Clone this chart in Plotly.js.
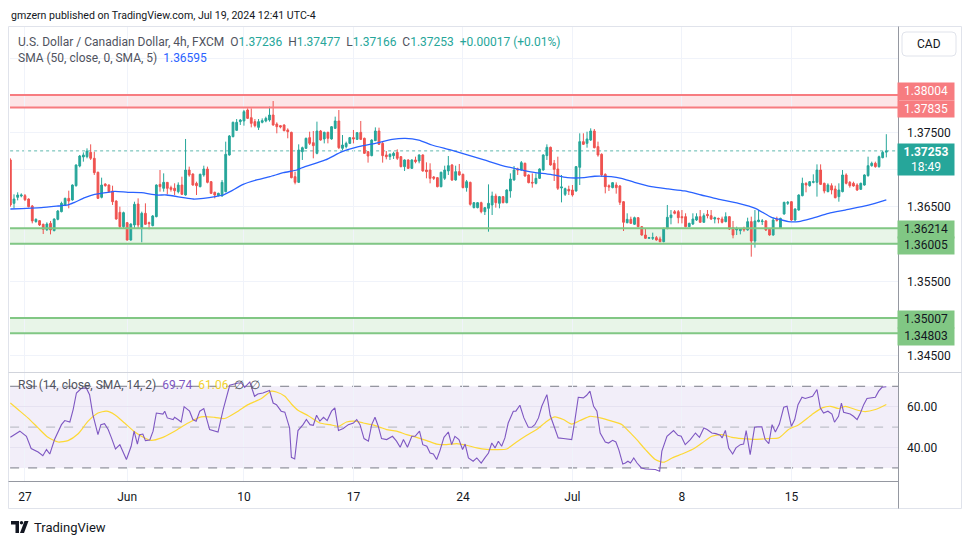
<!DOCTYPE html>
<html><head><meta charset="utf-8">
<script src="https://cdn.plot.ly/plotly-3.0.1.min.js"></script>
<style>html,body{margin:0;padding:0;background:#fff;}#chart{width:970px;height:545px;}</style>
</head><body><div id="chart"></div>
<script>
// ---- DATA ----
const openP=[1.37131,1.36548,1.36629,1.36647,1.36651,1.36606,1.36512,1.36302,1.36315,1.36266,1.36194,1.36279,1.36181,1.36333,1.36436,1.36526,1.36615,1.36593,1.36785,1.37050,1.37171,1.37175,1.37233,1.37153,1.36965,1.36629,1.36808,1.36794,1.36714,1.36579,1.36427,1.36234,1.36288,1.36055,1.36257,1.36539,1.36221,1.36414,1.36288,1.36248,1.36369,1.36803,1.36750,1.36830,1.36759,1.36750,1.36705,1.36794,1.36660,1.36996,1.36942,1.36817,1.36772,1.36929,1.37009,1.36839,1.36696,1.36651,1.36647,1.36705,1.37198,1.37444,1.37529,1.37646,1.37655,1.37802,1.37699,1.37646,1.37569,1.37637,1.37655,1.37668,1.37735,1.37614,1.37592,1.37601,1.37534,1.37502,1.36906,1.36830,1.37242,1.37287,1.37431,1.37363,1.37220,1.37520,1.37413,1.37502,1.37413,1.37556,1.37655,1.37287,1.37310,1.37354,1.37431,1.37408,1.37502,1.37422,1.37242,1.37189,1.37390,1.37520,1.37354,1.37198,1.37175,1.37189,1.37233,1.37175,1.37041,1.37131,1.37018,1.37131,1.37117,1.37198,1.36996,1.36996,1.36902,1.36893,1.36772,1.36884,1.36983,1.37063,1.36862,1.36974,1.36938,1.36759,1.36830,1.36490,1.36490,1.36557,1.36436,1.36481,1.36526,1.36647,1.36548,1.36638,1.36557,1.36714,1.36862,1.37009,1.36996,1.37086,1.36929,1.36830,1.36817,1.36884,1.36996,1.37189,1.37301,1.37086,1.37009,1.36754,1.36669,1.36736,1.36727,1.36714,1.37032,1.37377,1.37354,1.37399,1.37520,1.37310,1.37207,1.36938,1.36785,1.36759,1.36794,1.36781,1.36570,1.36288,1.36333,1.36266,1.36355,1.36234,1.36122,1.36078,1.36078,1.36087,1.36069,1.36033,1.36212,1.36355,1.36436,1.36436,1.36369,1.36369,1.36234,1.36270,1.36324,1.36369,1.36293,1.36400,1.36382,1.36337,1.36346,1.36337,1.36302,1.36369,1.36221,1.36190,1.36181,1.36212,1.36190,1.36302,1.36042,1.36302,1.36302,1.36311,1.36199,1.36122,1.36333,1.36212,1.36405,1.36548,1.36570,1.36324,1.36458,1.36651,1.36817,1.36785,1.36830,1.36830,1.36996,1.36817,1.36705,1.36785,1.36741,1.36638,1.36705,1.36929,1.36830,1.36817,1.36794,1.36736,1.36794,1.36920,1.37054,1.37086,1.37041,1.37162,1.37236];
const highP=[1.37153,1.36669,1.36696,1.36682,1.36673,1.36615,1.36526,1.36346,1.36324,1.36275,1.36293,1.36311,1.36346,1.36458,1.36570,1.36624,1.36718,1.36803,1.37072,1.37198,1.37233,1.37287,1.37341,1.37242,1.36974,1.36893,1.36817,1.36803,1.36785,1.36588,1.36503,1.36436,1.36297,1.36279,1.36570,1.36615,1.36436,1.36548,1.36302,1.36391,1.36803,1.36996,1.36951,1.36830,1.36785,1.36817,1.36830,1.36906,1.37413,1.37041,1.36951,1.36839,1.36947,1.37054,1.37041,1.36848,1.36705,1.36691,1.36862,1.37377,1.37466,1.37646,1.37681,1.37681,1.37802,1.37825,1.37825,1.37681,1.37681,1.37690,1.37713,1.37847,1.37923,1.37637,1.37601,1.37610,1.37556,1.37511,1.36974,1.37341,1.37310,1.37431,1.37511,1.37520,1.37646,1.37534,1.37511,1.37511,1.37587,1.37713,1.37802,1.37466,1.37377,1.37440,1.37534,1.37507,1.37655,1.37431,1.37251,1.37408,1.37569,1.37565,1.37377,1.37251,1.37220,1.37242,1.37274,1.37184,1.37139,1.37139,1.37139,1.37175,1.37207,1.37207,1.37099,1.37086,1.36915,1.36902,1.36974,1.37054,1.37184,1.37077,1.37054,1.37077,1.36947,1.36862,1.36839,1.36566,1.36566,1.36570,1.36499,1.36803,1.36705,1.36678,1.36647,1.36647,1.36736,1.36951,1.37050,1.37027,1.37117,1.37095,1.36938,1.36951,1.36951,1.37018,1.37207,1.37341,1.37310,1.37131,1.37175,1.36929,1.36759,1.36785,1.36794,1.37050,1.37489,1.37489,1.37511,1.37556,1.37547,1.37377,1.37220,1.36951,1.36803,1.36830,1.36830,1.36794,1.36579,1.36414,1.36369,1.36369,1.36364,1.36243,1.36203,1.36096,1.36154,1.36109,1.36100,1.36221,1.36526,1.36458,1.36458,1.36458,1.36458,1.36414,1.36288,1.36414,1.36414,1.36458,1.36414,1.36458,1.36458,1.36369,1.36355,1.36369,1.36427,1.36378,1.36311,1.36234,1.36212,1.36234,1.36355,1.36369,1.36458,1.36458,1.36337,1.36324,1.36208,1.36355,1.36369,1.36355,1.36570,1.36579,1.36579,1.36481,1.36669,1.36893,1.36830,1.36848,1.36938,1.37072,1.37072,1.36826,1.36817,1.36817,1.36785,1.36817,1.36996,1.36951,1.36848,1.36839,1.36817,1.36826,1.36938,1.37175,1.37108,1.37108,1.37189,1.37251,1.37477];
const lowP=[1.36503,1.36481,1.36588,1.36629,1.36579,1.36494,1.36279,1.36288,1.36243,1.36136,1.36176,1.36131,1.36172,1.36320,1.36427,1.36512,1.36481,1.36584,1.36772,1.37032,1.37108,1.37153,1.37131,1.36929,1.36606,1.36615,1.36772,1.36696,1.36526,1.36328,1.36212,1.36212,1.36046,1.36046,1.36212,1.36212,1.36024,1.36257,1.36199,1.36239,1.36360,1.36705,1.36705,1.36669,1.36705,1.36660,1.36682,1.36660,1.36651,1.36906,1.36785,1.36660,1.36763,1.36906,1.36817,1.36673,1.36615,1.36642,1.36638,1.36696,1.37189,1.37435,1.37520,1.37601,1.37592,1.37681,1.37569,1.37569,1.37534,1.37623,1.37637,1.37646,1.37592,1.37489,1.37556,1.37516,1.37422,1.36884,1.36803,1.36821,1.37131,1.37278,1.37332,1.37153,1.37207,1.37390,1.37354,1.37354,1.37404,1.37547,1.37278,1.37265,1.37287,1.37345,1.37354,1.37399,1.37399,1.37211,1.37095,1.37180,1.37386,1.37332,1.37095,1.37139,1.37131,1.37144,1.37131,1.37032,1.36983,1.37009,1.37009,1.37086,1.37086,1.36974,1.36884,1.36817,1.36862,1.36763,1.36763,1.36862,1.36929,1.36848,1.36853,1.36920,1.36750,1.36705,1.36517,1.36481,1.36481,1.36414,1.36391,1.36167,1.36391,1.36490,1.36481,1.36548,1.36548,1.36624,1.36853,1.36929,1.36987,1.36906,1.36817,1.36759,1.36803,1.36875,1.36987,1.37131,1.37054,1.36848,1.36727,1.36561,1.36647,1.36660,1.36638,1.36705,1.36794,1.37332,1.37296,1.37386,1.37287,1.37175,1.36906,1.36682,1.36714,1.36750,1.36678,1.36526,1.36176,1.36279,1.36275,1.36257,1.36225,1.36113,1.36069,1.36069,1.36055,1.36046,1.36024,1.36024,1.36199,1.36266,1.36400,1.36279,1.36279,1.36225,1.36225,1.36257,1.36311,1.36288,1.36288,1.36346,1.36324,1.36279,1.36279,1.36279,1.36293,1.36190,1.36078,1.36122,1.36131,1.36167,1.36181,1.35831,1.35952,1.36293,1.36257,1.36176,1.36113,1.36113,1.36302,1.36203,1.36396,1.36526,1.36311,1.36311,1.36449,1.36642,1.36696,1.36772,1.36817,1.36638,1.36794,1.36682,1.36696,1.36669,1.36615,1.36570,1.36696,1.36803,1.36759,1.36772,1.36714,1.36727,1.36785,1.36906,1.37041,1.37027,1.37027,1.37153,1.37166];
const closeP=[1.36526,1.36606,1.36660,1.36660,1.36597,1.36503,1.36311,1.36333,1.36257,1.36199,1.36270,1.36190,1.36337,1.36445,1.36548,1.36615,1.36579,1.36794,1.37063,1.37184,1.37198,1.37251,1.37153,1.36960,1.36615,1.36794,1.36785,1.36705,1.36570,1.36337,1.36234,1.36423,1.36055,1.36270,1.36535,1.36257,1.36414,1.36266,1.36275,1.36378,1.36794,1.36772,1.36830,1.36750,1.36736,1.36718,1.36794,1.36669,1.36996,1.36929,1.36794,1.36785,1.36938,1.37009,1.36830,1.36682,1.36660,1.36682,1.36830,1.37207,1.37453,1.37637,1.37637,1.37668,1.37780,1.37690,1.37623,1.37592,1.37646,1.37659,1.37690,1.37735,1.37601,1.37578,1.37574,1.37525,1.37511,1.36893,1.36830,1.37265,1.37296,1.37422,1.37354,1.37323,1.37520,1.37399,1.37502,1.37422,1.37578,1.37655,1.37296,1.37332,1.37354,1.37431,1.37413,1.37498,1.37408,1.37220,1.37184,1.37399,1.37520,1.37341,1.37189,1.37175,1.37207,1.37220,1.37153,1.37041,1.37131,1.37018,1.37131,1.37108,1.37198,1.36983,1.36974,1.36884,1.36884,1.36772,1.36965,1.36996,1.37054,1.36862,1.36974,1.36929,1.36759,1.36839,1.36535,1.36557,1.36557,1.36436,1.36490,1.36548,1.36647,1.36557,1.36638,1.36557,1.36727,1.36875,1.36996,1.36996,1.37095,1.36915,1.36826,1.36821,1.36884,1.37009,1.37198,1.37301,1.37063,1.37005,1.36750,1.36768,1.36745,1.36714,1.36660,1.37041,1.37377,1.37341,1.37413,1.37520,1.37296,1.37198,1.36929,1.36772,1.36768,1.36826,1.36759,1.36561,1.36293,1.36333,1.36279,1.36355,1.36234,1.36122,1.36078,1.36087,1.36087,1.36055,1.36033,1.36212,1.36360,1.36391,1.36414,1.36355,1.36355,1.36234,1.36279,1.36337,1.36369,1.36293,1.36382,1.36382,1.36337,1.36355,1.36337,1.36293,1.36369,1.36203,1.36122,1.36203,1.36203,1.36190,1.36302,1.36042,1.36311,1.36324,1.36311,1.36190,1.36122,1.36324,1.36320,1.36346,1.36561,1.36561,1.36324,1.36472,1.36660,1.36817,1.36794,1.36839,1.36839,1.36996,1.36803,1.36714,1.36794,1.36727,1.36624,1.36727,1.36929,1.36817,1.36785,1.36781,1.36727,1.36817,1.36929,1.37054,1.37086,1.37041,1.37175,1.37233,1.37253];
const smaIdx=[0,8.5,13.1,15.8,17.6,20.4,23.1,24.9,28.6,32.2,35.9,40.1,42.8,47.4,50.1,52.9,56.5,58.3,60.2,63.8,67.5,71.1,74.8,78.5,80,86.3,90.9,95.4,100,104.6,108.2,111.9,115.5,120.6,125.2,129.8,134.3,138.9,143.5,148,152.6,157.2,160.1,164.6,167.4,171,175.6,180.2,184.7,189.3,193.9,199.5,204.1,208.7,211.4,213.2,216,219.6,224.2,228.7,233.3,236.9,240];
const smaVal=[1.36472,1.36490,1.36512,1.36526,1.36561,1.36624,1.36669,1.36682,1.36709,1.36696,1.36691,1.36660,1.36660,1.36624,1.36606,1.36615,1.36642,1.36660,1.36705,1.36803,1.36862,1.36906,1.36960,1.36996,1.37027,1.37131,1.37242,1.37310,1.37354,1.37408,1.37422,1.37399,1.37332,1.37265,1.37198,1.37131,1.37063,1.37009,1.36965,1.36938,1.36893,1.36893,1.36912,1.36906,1.36884,1.36830,1.36772,1.36741,1.36714,1.36660,1.36606,1.36548,1.36481,1.36355,1.36324,1.36302,1.36302,1.36346,1.36414,1.36458,1.36503,1.36548,1.36595];
const rsiIdx=[0,2.6,4.4,5.7,7.6,8.9,9.9,10.8,12.1,14,14.9,16.3,17.2,18.1,19.4,20.8,21.7,22.6,24,24.8,25.8,26.8,27.7,28.8,30,31.8,33.1,33.9,34.8,35.4,36.3,37,38.2,39.1,40,41.8,42.3,43,44.6,45,45.9,46.8,47.6,49.1,50,50.9,51.9,53,54.6,56.9,58.3,59.2,60.1,62.4,63.3,64.2,65.6,66.9,67.8,69.2,71,72,72.9,74.2,75.2,76.5,77,77.9,78.8,80.2,81.1,82.1,83,83.9,84.8,85.8,86.8,88,88.9,89.9,91.2,92.6,94,94.9,95.8,96.9,98.1,99,99.9,100.8,101.7,103.1,104.7,105.8,106.8,107.7,108.8,110,110.9,112.1,113,114.1,115,115.9,116.8,117.7,118.8,120,120.9,121.8,122.9,123.9,124.6,125.5,126.8,127.8,129,130,131,131.9,132.8,133.7,134.6,135.5,136.4,137.8,138.5,139.6,140.7,141.9,142.8,143.7,144.7,145.6,147,147.9,148.8,150.1,151.5,152.9,153.8,154.7,155.6,157,157.9,158.8,159.8,160.7,161.6,163,163.9,165,165.9,166.7,167.8,168.5,169.2,169.9,170.8,171.7,172.9,174,175.3,176.7,177.9,178.5,179.9,181.7,182.9,183.8,184.9,186.3,187.7,188.8,190,190.9,192.2,193.3,194.5,195,195.9,196.8,197.9,198.8,200,200.9,201.6,202.7,203.9,204.8,205.9,206.8,207.8,208.7,209.6,210.7,211.9,212.8,214,214.9,215.8,216.9,217.8,218.9,219.8,221,221.9,222.8,224,225.1,225.8,226.9,227.7,228.3,229.2,230.1,231,232,232.9,233.8,234.7,236.1,237,237.9,238.8,240];
const rsiVal=[45,48,45.5,39.5,37.8,36,39,36.8,43.9,51.2,53.2,52.5,58.6,66.7,68.9,69.2,65.9,56.1,46.3,51.2,51.7,48.8,44.7,39.3,41.4,34.1,40.6,48,41.7,46.3,46.6,43.4,43.7,48,56.9,56.4,57.8,54.5,53.7,54.8,53.7,52.5,60,57.8,53.7,52.9,57.8,59.1,48.8,47.6,58.6,65.1,70.5,71.6,71.6,69.5,72.1,65.1,66.2,66.7,67.9,61.8,61,57.8,57.3,49.6,35.2,34.4,48.3,51.2,53.7,51.2,50.9,55.8,52.9,54.8,53.2,57.8,59.4,48.3,49.3,51.2,52,53.7,51.2,44.4,43.1,51.2,54.8,50.4,44.4,43.9,45.5,43.1,40.1,43.9,40.1,45.5,45.5,48,41.4,40.6,37.3,36.8,34.1,38.5,45,47.6,41.4,45.5,43.9,39,41.7,34.9,33.3,34.9,32.4,34.9,37.3,42.2,39.8,43.1,40.6,44.7,52,57.8,57.8,60.7,54.5,49.9,49.9,51.2,54.5,60.2,65.9,55.8,51.2,44.7,44.4,43.9,43.9,53.7,64.6,64.3,65.6,67.6,60.2,57.8,47.1,42.7,42.2,43.5,42.7,39,31.9,32.4,33.3,32.4,34.9,32.4,30,29.5,29.3,29.2,28.4,38.2,45.5,48.3,46,45.5,41.4,43.9,47.1,45,49.6,48.8,47.1,46.8,46,44.7,48.4,39.8,36.8,39.8,41.4,41.7,48.3,36.5,49.9,50.2,50.1,43.9,41.9,51.2,47.6,51.5,59.7,60.2,50.4,53.7,61,64.6,64,64.6,65.1,68.4,59.4,56.9,57.8,56.4,52.4,55.3,61.8,57.3,56.9,56.4,55.3,53.7,56.9,61,64,64.3,64.6,67.6,69.5,69.74];
const rsiMaIdx=[0,2.1,4.8,7.6,10.3,13.1,15.8,18.5,21.3,24,26.3,28.6,31.3,34.1,36.8,38.6,41.4,45,48.7,52.3,56,58.7,62.4,65.1,68.8,71.5,72.9,75.2,77,78.8,81.6,84.8,87.6,89.9,92.1,94.4,96.7,99,101.3,103.1,105.8,108.6,111.3,114.1,116.8,119.5,122.3,125,127.8,130.5,133.2,136,138.7,141.5,144.2,147,149.2,151.5,153.8,156.1,158.8,161.6,164.8,167.6,169.4,171.2,174,176.7,179,181.3,184,186.8,189.5,192.2,195,197.7,200.5,204.1,207.8,210.5,213.2,216,219.6,222.4,224.7,226.9,228.8,231.5,234.2,237,240];
const rsiMaVal=[61.8,58.6,54.5,49.6,45,42.7,43.4,46.6,52.9,56.9,57.8,56.1,52,47.6,44.7,43.5,44.7,48,52,55,54.8,54.2,57.8,61,64,67.6,67.2,65.1,61.3,58.2,55.6,52,51.2,50.4,52.5,52.9,52,51.2,49.9,48.8,48,46.3,45,43.4,41.7,41.4,41.9,41.1,39.8,39.1,39,39.3,42.7,46,48.8,52.9,55,53.7,51.5,53.2,55.3,54.5,52.9,51.2,48,44.7,39,34.1,32.8,34.9,36.8,39,42.2,45.5,46.3,45,44.4,44,44.4,44.7,48.8,51.2,56.1,59.4,60.2,59.1,60.2,58.6,57.6,58.6,61.06];
const tickIdx=[4,32,64,94,124,154,184,214];
const tickLabels=['27','Jun','10','17','24','Jul','8','15'];
const priceTicks=[1.345,1.35,1.355,1.36,1.365,1.37,1.375,1.38,1.385];
const priceTickText=['1.34500','','1.35500','','1.36500','','1.37500','',''];
const resZone=[1.37835,1.38004];
const supZone1=[1.36005,1.36214];
const supZone2=[1.34803,1.35007];
const lastPrice=1.37253;
const rsiLevels=[30,50,70];

// ---- LAYOUT HELPERS (pixel -> paper) ----
const W=970,H=545,PL=10,PR=898,PT=27,PB=481;
const px=x=>(x-PL)/(PR-PL);
const py=y=>(PB-y)/(PB-PT);
const FONT='Roboto, "Open Sans", sans-serif';
const TXT='#131722';
const UP='#26a69a', DN='#ef5350';
const barIdx=closeP.map((_,i)=>i);

const traces=[
 {type:'candlestick',x:barIdx,open:openP,high:highP,low:lowP,close:closeP,xaxis:'x',yaxis:'y',
  increasing:{line:{color:UP,width:1},fillcolor:UP},decreasing:{line:{color:DN,width:1},fillcolor:DN},
  whiskerwidth:0,hoverinfo:'skip',showlegend:false},
 {type:'scatter',mode:'lines',x:smaIdx,y:smaVal,xaxis:'x',yaxis:'y',line:{color:'#2962ff',width:1.3,shape:'spline',smoothing:0.6},hoverinfo:'skip',showlegend:false},
 {type:'scatter',mode:'lines',x:rsiMaIdx,y:rsiMaVal,xaxis:'x',yaxis:'y2',line:{color:'#fdd835',width:1.2,shape:'spline',smoothing:0.6},hoverinfo:'skip',showlegend:false},
 {type:'scatter',mode:'lines',x:rsiIdx,y:rsiVal,xaxis:'x',yaxis:'y2',line:{color:'#7e57c2',width:1.1},hoverinfo:'skip',showlegend:false}
];

const shapes=[];
function zone(z,fill,line){
 shapes.push({type:'rect',xref:'x',yref:'y',x0:-5,x1:260,y0:z[0],y1:z[1],fillcolor:fill,line:{width:0},layer:'below'});
 z.forEach(v=>shapes.push({type:'line',xref:'x',yref:'y',x0:-5,x1:260,y0:v,y1:v,line:{color:line,width:2},layer:'above'}));
}
zone(resZone,'rgba(242,54,69,0.13)','#f77c80');
zone(supZone1,'rgba(76,175,80,0.13)','#81c784');
zone(supZone2,'rgba(76,175,80,0.13)','#81c784');
shapes.push({type:'line',xref:'x',yref:'y',x0:-5,x1:260,y0:lastPrice,y1:lastPrice,line:{color:'#5fb8ae',width:1,dash:'dot'},layer:'below'});
shapes.push({type:'rect',xref:'x',yref:'y2',x0:-5,x1:260,y0:rsiLevels[0],y1:rsiLevels[2],fillcolor:'rgba(126,87,194,0.1)',line:{width:0},layer:'below'});
rsiLevels.forEach((v,k)=>shapes.push({type:'line',xref:'x',yref:'y2',x0:-5,x1:260,y0:v,y1:v,line:{color:k===1?'#b2b5be':'#787b86',width:1,dash:'dash'},layer:'below'}));
// frame lines
shapes.push({type:'rect',xref:'paper',yref:'paper',x0:px(8.5),x1:px(961.5),y0:py(26.5),y1:py(508.5),line:{color:'#e0e3eb',width:1},fillcolor:'rgba(0,0,0,0)'});
shapes.push({type:'line',xref:'paper',yref:'paper',x0:px(898.5),x1:px(898.5),y0:py(26.5),y1:py(508.5),line:{color:'#9598a1',width:1}});
shapes.push({type:'line',xref:'paper',yref:'paper',x0:px(8.5),x1:px(898.5),y0:py(481.5),y1:py(481.5),line:{color:'#9598a1',width:1}});
shapes.push({type:'line',xref:'paper',yref:'paper',x0:px(8.5),x1:px(961.5),y0:py(372.5),y1:py(372.5),line:{color:'#d1d4dc',width:1}});
// CAD button (rounded)
(function(){const x0=902,x1=956,y0=32,y1=56,r=4;
 const P=(x,y)=>px(x)+','+py(y);
 const d='M'+P(x0+r,y0)+' L'+P(x1-r,y0)+' Q'+P(x1,y0)+' '+P(x1,y0+r)+' L'+P(x1,y1-r)+' Q'+P(x1,y1)+' '+P(x1-r,y1)+' L'+P(x0+r,y1)+' Q'+P(x0,y1)+' '+P(x0,y1-r)+' L'+P(x0,y0+r)+' Q'+P(x0,y0)+' '+P(x0+r,y0)+' Z';
 shapes.push({type:'path',xref:'paper',yref:'paper',path:d,line:{color:'#e0e3eb',width:1},fillcolor:'#ffffff'});
})();
// TradingView logo
(function(){
 shapes.push({type:'path',xref:'paper',yref:'paper',path:'M'+px(11)+','+py(521)+' L'+px(19)+','+py(521)+' L'+px(19)+','+py(533)+' L'+px(15.5)+','+py(533)+' L'+px(15.5)+','+py(524.5)+' L'+px(11)+','+py(524.5)+' Z',fillcolor:TXT,line:{width:0}});
 shapes.push({type:'circle',xref:'paper',yref:'paper',x0:px(19.8),x1:px(23.2),y0:py(521),y1:py(524.4),fillcolor:TXT,line:{width:0}});
 shapes.push({type:'path',xref:'paper',yref:'paper',path:'M'+px(24.5)+','+py(521)+' L'+px(28.5)+','+py(521)+' L'+px(24)+','+py(533)+' L'+px(20)+','+py(533)+' Z',fillcolor:TXT,line:{width:0}});
})();

const ann=[];
function txt(x,y,t,size,color,anchor){ann.push({xref:'paper',yref:'paper',x:px(x),y:py(y),text:t,showarrow:false,xanchor:anchor||'left',yanchor:'middle',font:{family:FONT,size:size,color:color||TXT}});}
const sp='\u00a0';
txt(9,15,'gmzern published on TradingView.com, Jul 19, 2024 12:41 UTC-4',10.6,TXT);
const g=v=>'<span style="color:'+UP+'">'+v+'</span>';
txt(16,42,'U.S. Dollar / Canadian Dollar, 4h, FXCM'+sp+sp+'O'+g('1.37236')+sp+sp+'H'+g('1.37477')+sp+sp+'L'+g('1.37166')+sp+sp+'C'+g('1.37253')+sp+sp+g('+0.00017 (+0.01%)'),12,'#50535e');
txt(16,58,'SMA (50, close, 0, SMA, 5)'+sp+sp+'<span style="color:#2962ff">1.36595</span>',12,'#50535e');
txt(16,385,'RSI (14, close, SMA, 14, 2)'+sp+sp+'<span style="color:#7e57c2">69.74</span>'+sp+sp+'<span style="color:#f2d22e">61.06</span>'+sp+sp+'∅'+sp+sp+'∅',12,'#50535e');
txt(929,44,'CAD',12,TXT,'center');
txt(32,527,'TradingView',13,TXT);
function plab(price,shift,text,bg,fg,h,yanchor){ann.push({xref:'paper',yref:'y',x:px(926),y:price,yshift:shift,text:text,showarrow:false,xanchor:'center',yanchor:yanchor||'middle',width:56,height:h,bgcolor:bg,borderpad:0,font:{family:FONT,size:12,color:fg}});}
plab(resZone[1],4,'1.38004','#f77c80','#ffffff',16.5);
plab(resZone[0],-1,'1.37835','#f77c80','#ffffff',16);
plab(lastPrice,8,'<b>1.37253</b><br>18:49',UP,'#ffffff',31,'top');
plab(supZone1[1],-1,'1.36214','#81c784',TXT,16.5);
plab(supZone1[0],-2,'1.36005','#81c784',TXT,16.5);
plab(supZone2[1],-2,'1.35007','#81c784',TXT,16.5);
plab(supZone2[0],-3,'1.34803','#81c784',TXT,16.5);

const layout={
 width:W,height:H,margin:{l:PL,r:W-PR,t:PT,b:H-PB,pad:0},
 paper_bgcolor:'#ffffff',plot_bgcolor:'#ffffff',showlegend:false,
 font:{family:FONT,size:12,color:TXT},
 xaxis:{anchor:'y2',range:[-0.1,243.2],tickvals:tickIdx,ticktext:tickLabels,showgrid:true,gridcolor:'#f0f3fa',gridwidth:1,zeroline:false,showline:false,ticks:'',ticklabelstandoff:7,tickfont:{family:FONT,size:12,color:TXT},rangeslider:{visible:false},fixedrange:true},
 yaxis:{domain:[py(372),1],range:[1.34281,1.38918],side:'right',tickvals:priceTicks,ticktext:priceTickText,showgrid:true,gridcolor:'#f0f3fa',zeroline:false,showline:false,ticks:'',ticklabelstandoff:8,tickfont:{family:FONT,size:12,color:TXT},fixedrange:true},
 yaxis2:{domain:[0,py(373)],range:[23.6,76.5],side:'right',tickvals:[40,60],ticktext:['40.00','60.00'],showgrid:true,gridcolor:'#e6e2f1',zeroline:false,showline:false,ticks:'',ticklabelstandoff:8,tickfont:{family:FONT,size:12,color:TXT},fixedrange:true},
 shapes:shapes,annotations:ann
};
Plotly.newPlot('chart',traces,layout,{staticPlot:true,displayModeBar:false});
</script></body></html>
